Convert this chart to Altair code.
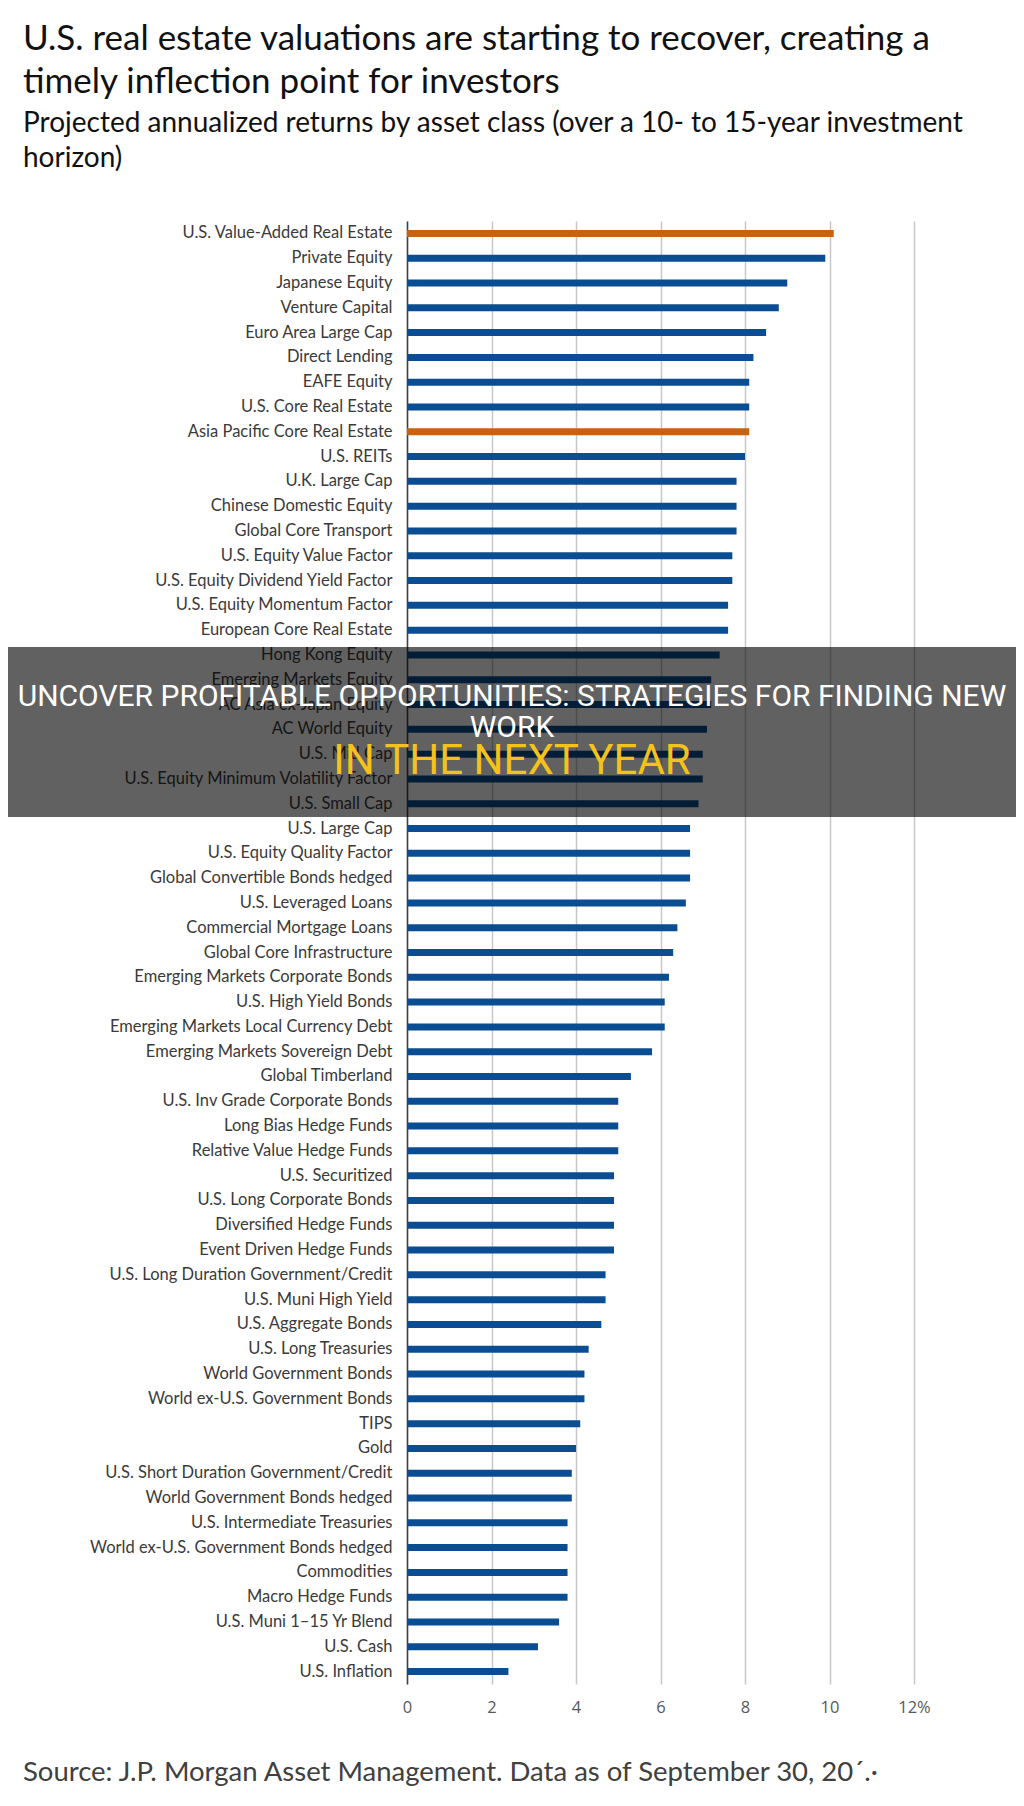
import altair as alt
import pandas as pd

# ---- data ----
asset_classes = [
    "U.S. Value-Added Real Estate", "Private Equity", "Japanese Equity", "Venture Capital",
    "Euro Area Large Cap", "Direct Lending", "EAFE Equity", "U.S. Core Real Estate",
    "Asia Pacific Core Real Estate", "U.S. REITs", "U.K. Large Cap", "Chinese Domestic Equity",
    "Global Core Transport", "U.S. Equity Value Factor", "U.S. Equity Dividend Yield Factor",
    "U.S. Equity Momentum Factor", "European Core Real Estate", "Hong Kong Equity",
    "Emerging Markets Equity", "AC Asia ex-Japan Equity", "AC World Equity", "U.S. Mid Cap",
    "U.S. Equity Minimum Volatility Factor", "U.S. Small Cap", "U.S. Large Cap",
    "U.S. Equity Quality Factor", "Global Convertible Bonds hedged", "U.S. Leveraged Loans",
    "Commercial Mortgage Loans", "Global Core Infrastructure", "Emerging Markets Corporate Bonds",
    "U.S. High Yield Bonds", "Emerging Markets Local Currency Debt", "Emerging Markets Sovereign Debt",
    "Global Timberland", "U.S. Inv Grade Corporate Bonds", "Long Bias Hedge Funds",
    "Relative Value Hedge Funds", "U.S. Securitized", "U.S. Long Corporate Bonds",
    "Diversified Hedge Funds", "Event Driven Hedge Funds", "U.S. Long Duration Government/Credit",
    "U.S. Muni High Yield", "U.S. Aggregate Bonds", "U.S. Long Treasuries", "World Government Bonds",
    "World ex-U.S. Government Bonds", "TIPS", "Gold", "U.S. Short Duration Government/Credit",
    "World Government Bonds hedged", "U.S. Intermediate Treasuries",
    "World ex-U.S. Government Bonds hedged", "Commodities", "Macro Hedge Funds",
    "U.S. Muni 1\u201315 Yr Blend", "U.S. Cash", "U.S. Inflation",
]
returns = [
    10.1, 9.9, 9.0, 8.8, 8.5, 8.2, 8.1, 8.1, 8.1, 8.0, 7.8, 7.8, 7.8, 7.7, 7.7, 7.6, 7.6,
    7.4, 7.2, 7.2, 7.1, 7.0, 7.0, 6.9, 6.7, 6.7, 6.7, 6.6, 6.4, 6.3, 6.2, 6.1, 6.1, 5.8,
    5.3, 5.0, 5.0, 5.0, 4.9, 4.9, 4.9, 4.9, 4.7, 4.7, 4.6, 4.3, 4.2, 4.2, 4.1, 4.0, 3.9,
    3.9, 3.8, 3.8, 3.8, 3.8, 3.6, 3.1, 2.4,
]
highlighted = ["U.S. Value-Added Real Estate", "Asia Pacific Core Real Estate"]
x_ticks = [0, 2, 4, 6, 8, 10, 12]

title_lines = [
    "U.S. real estate valuations are starting to recover, creating a",
    "timely inflection point for investors",
]
subtitle_lines = [
    "Projected annualized returns by asset class (over a 10- to 15-year investment",
    "horizon)",
]
source_text = "Source: J.P. Morgan Asset Management. Data as of September 30, 20\u00b4.\u00b7"
banner_lines = [
    "UNCOVER PROFITABLE OPPORTUNITIES: STRATEGIES FOR FINDING NEW",
    "WORK",
]
banner_highlight = "IN THE NEXT YEAR"

BLUE = "#0b4d92"
ORANGE = "#c8620f"

df = pd.DataFrame({
    "asset": asset_classes,
    "ret": returns,
    "color": [ORANGE if a in highlighted else BLUE for a in asset_classes],
})

W, H = 507, 1463
PAD_L, PAD_T = 399, 213
PAD_R = 1008 - PAD_L - W
PAD_B = 1790 - PAD_T - H

bars = alt.Chart(df).mark_bar(size=7).encode(
    x=alt.X("ret:Q", scale=alt.Scale(domain=[0, 12], nice=False, zero=True),
            axis=alt.Axis(values=x_ticks, title=None, domain=False, ticks=False,
                          grid=True, gridColor="#c8c8c8", gridWidth=1.5,
                          labelFont="Open Sans", labelFontSize=16.5, labelColor="#595959",
                          labelPadding=15, labelFlush=False,
                          labelExpr="datum.value == 12 ? '12%' : datum.label")),
    y=alt.Y("asset:N", sort=asset_classes,
            axis=alt.Axis(title=None, ticks=False, grid=False, domain=True,
                          domainColor="#404040", domainWidth=1.5,
                          labelFont="Lato", labelFontSize=16.5, labelColor="#3a3a3a",
                          labelPadding=15, labelLimit=400)),
    color=alt.Color("color:N", scale=None),
)


def text_layer(text, x, y, size, color, font, align="left", weight="normal"):
    return alt.Chart(pd.DataFrame({"t": [text]})).mark_text(
        align=align, baseline="alphabetic", fontSize=size, font=font,
        color=color, fontWeight=weight,
    ).encode(x=alt.value(x), y=alt.value(y), text="t:N")


# plot origin is at page x=407, y=221
OX, OY = 407, 221
layers = [bars]
layers.append(text_layer(title_lines[0], 23 - OX, 50 - OY, 35, "#111111", "Lato"))
layers.append(text_layer(title_lines[1], 23 - OX, 93 - OY, 35, "#111111", "Lato"))
layers.append(text_layer(subtitle_lines[0], 23 - OX, 132 - OY, 28, "#111111", "Lato"))
layers.append(text_layer(subtitle_lines[1], 23 - OX, 167 - OY, 28, "#111111", "Lato"))
layers.append(text_layer(source_text, 23 - OX, 1781 - OY, 27.5, "#404040", "Lato"))

banner = alt.Chart(pd.DataFrame({"k": [0]})).mark_rect(color="#000000", opacity=0.62).encode(
    x=alt.value(0 - OX), x2=alt.value(1024 - OX), y=alt.value(647 - OY), y2=alt.value(817 - OY)
)
layers.append(banner)
layers.append(text_layer(banner_lines[0], 512 - OX, 706 - OY, 30, "#ffffff", "Roboto", align="center"))
layers.append(text_layer(banner_lines[1], 512 - OX, 737 - OY, 30, "#ffffff", "Roboto", align="center"))
layers.append(text_layer(banner_highlight, 512 - OX, 774 - OY, 42, "#f4c21b", "Roboto", align="center"))

chart = alt.layer(*layers).properties(
    width=W, height=H,
    autosize=alt.AutoSizeParams(type="none"),
    padding={"left": PAD_L, "top": PAD_T, "right": PAD_R, "bottom": PAD_B},
    background="#ffffff",
).configure_view(stroke=None)

chart.save("out.html", embed_options={"renderer": "svg", "actions": False})
